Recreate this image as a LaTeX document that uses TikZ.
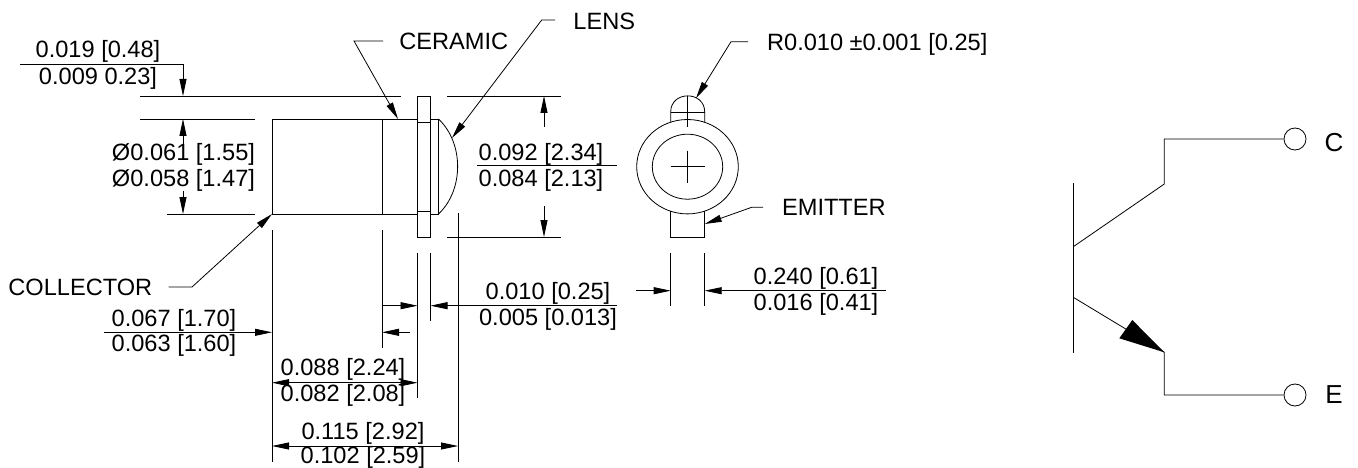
\documentclass[tikz,border=0pt]{standalone}
\usepackage{fontspec}
\setmainfont{Liberation Sans}
\usetikzlibrary{arrows.meta}
\tikzset{
    lbl/.style={inner sep=0pt, text height=17pt, text depth=0pt, font=\fontsize{23.6}{28}\selectfont},
    pinlbl/.style={inner sep=0pt, text height=19pt, text depth=0pt, font=\fontsize{26}{30}\selectfont},
    tipend/.style={-{Triangle[length=17pt,width=7pt]}},
    tipboth/.style={{Triangle[length=17pt,width=7pt]}-{Triangle[length=17pt,width=7pt]}},
    terminal/.style={draw, circle, minimum size=22pt, inner sep=0pt}
}

\begin{document}
\begin{tikzpicture}[x=1pt, y=-1pt, line width=0.8pt]
    \useasboundingbox (0, 0) rectangle (1358, 468);

    % side view
    \draw (272, 119) rectangle (417.5, 214);
    \draw (382, 119) -- (382, 214);
    \draw (417.5, 96) rectangle (430.5, 237);
    \draw (417.5, 122) -- (430.5, 122);
    \draw (417.5, 211) -- (430.5, 211);
    \draw (430.5, 119) -- (438.5, 119) -- (438.5, 214) -- (430.5, 214);
    \draw (438.5, 119) .. controls (464, 143) and (464, 190) .. (438.5, 214);

    % end view
    \coordinate (hub) at (687.5, 166.7);
    \draw (hub) ellipse [x radius=50.8, y radius=47.2];
    \draw (hub) ellipse [x radius=35.2, y radius=32.5];
    \draw (670.7, 166.7) -- (705, 166.7);
    \draw (687.5, 150.7) -- (687.5, 182.7);
    \draw (670.7, 122.5) -- (670.7, 112) .. controls (670.7, 90.5) and (704.7, 90.5) .. (704.7, 112) -- (704.7, 122.5);
    \draw (670.7, 112) -- (704.7, 112);
    \draw (687.5, 96) -- (687.5, 127);
    \draw (670.7, 211) -- (670.7, 237) -- (704.7, 237) -- (704.7, 211);

    % extension lines
    \draw (140, 96) -- (401, 96);
    \draw (140, 119) -- (255, 119);
    \draw (167, 214) -- (255, 214);
    \draw (447, 96) -- (561, 96);
    \draw (447, 237) -- (561, 237);
    \draw (272, 230) -- (272, 462);
    \draw (382, 230) -- (382, 348);
    \draw (417.5, 253) -- (417.5, 398);
    \draw (430.5, 253) -- (430.5, 321);
    \draw (458, 213) -- (458, 462);
    \draw (670.7, 253) -- (670.7, 306);
    \draw (704.7, 253) -- (704.7, 306);

    % callouts
    \node[lbl, anchor=west] (ceramic) at (399, 41) {CERAMIC};
    \node[lbl, anchor=west] (lens) at (573, 21) {LENS};
    \node[lbl, anchor=west] (radius) at (766.7, 41.7) {R0.010 ±0.001 [0.25]};
    \node[lbl, anchor=west] (emitter) at (781.7, 207) {EMITTER};
    \node[lbl, anchor=west] (collector) at (8, 287) {COLLECTOR};
    \coordinate (ceramicbend) at (354, 41);
    \coordinate (ceramictip) at (398, 119);
    \coordinate (lensbend) at (541.7, 20);
    \coordinate (lenstip) at (452, 138);
    \coordinate (radiusbend) at (731, 41.7);
    \coordinate (radiustip) at (696, 98.3);
    \coordinate (emitterbend) at (751.7, 207.3);
    \coordinate (emittertip) at (704.7, 224);
    \coordinate (collectorbend) at (192, 287);
    \coordinate (collectortip) at (272, 214);
    \draw[tipend] (ceramic.west) ++(-16, 0) -- (ceramicbend) -- (ceramictip);
    \draw[tipend] (lens.west) ++(-18, -1) -- (lensbend) -- (lenstip);
    \draw[tipend] (radius.west) ++(-18.7, 0) -- (radiusbend) -- (radiustip);
    \draw[tipend] (emitter.west) ++(-18.7, 0.3) -- (emitterbend) -- (emittertip);
    \draw[tipend] (collector.east) ++(16, 0) -- (collectorbend) -- (collectortip);

    % dimensions, left
    \node[lbl] (topa) at (98, 49) {0.019 [0.48]};
    \node[lbl] (topb) at (98, 76) {0.009 0.23]};
    \draw[tipend] (20, 64.5) -- (183, 64.5) -- (183, 96);
    \node[lbl] (diaa) at (183.5, 152) {Ø0.061 [1.55]};
    \node[lbl] (diab) at (183.5, 178) {Ø0.058 [1.47]};
    \draw[tipend] (183, 144) -- (183, 119);
    \draw[tipend] (183, 191) -- (183, 214);
    \node[lbl] (lefta) at (174, 318) {0.067 [1.70]};
    \node[lbl] (leftb) at (174, 343) {0.063 [1.60]};
    \draw[tipend] (104, 332.3) -- (272, 332.3);

    % dimensions, bottom
    \node[lbl] (flangea) at (343, 367) {0.088 [2.24]};
    \node[lbl] (flangeb) at (343, 393) {0.082 [2.08]};
    \draw[tipboth] (272, 382.7) -- (417.5, 382.7);
    \node[lbl] (overalla) at (363, 431) {0.115 [2.92]};
    \node[lbl] (overallb) at (363, 455) {0.102 [2.59]};
    \draw[tipboth] (272, 446) -- (458, 446);
    \draw[tipend] (383, 305.7) -- (417.5, 305.7);
    \draw[tipend] (410, 332.3) -- (382, 332.3);
    \node[lbl] (gapa) at (548, 291) {0.010 [0.25]};
    \node[lbl] (gapb) at (548, 317) {0.005 [0.013]};
    \draw[tipend] (617, 305.7) -- (430.5, 305.7);

    % dimensions, right
    \node[lbl] (heighta) at (541, 152) {0.092 [2.34]};
    \node[lbl] (heightb) at (541, 178) {0.084 [2.13]};
    \draw (477, 165) -- (617, 165);
    \draw[tipend] (544, 127) -- (544, 96);
    \draw[tipend] (544, 206) -- (544, 237);
    \node[lbl] (pina) at (816, 275.7) {0.240 [0.61]};
    \node[lbl] (pinb) at (816, 301.7) {0.016 [0.41]};
    \draw[tipend] (636, 290.7) -- (670.7, 290.7);
    \draw[tipend] (885.7, 290.7) -- (704.7, 290.7);

    % transistor symbol
    \node[terminal] (cterm) at (1295, 139) {};
    \node[terminal] (eterm) at (1295, 395) {};
    \node[pinlbl] (clabel) at (1334, 141.7) {C};
    \node[pinlbl] (elabel) at (1334, 394) {E};
    \coordinate (basetop) at (1073.3, 183.3);
    \coordinate (basebot) at (1073.3, 352.7);
    \coordinate (cjoin) at (1073.3, 246.7);
    \coordinate (ejoin) at (1073.3, 297.3);
    \coordinate (cknee) at (1164.3, 184);
    \coordinate (eknee) at (1164.3, 352.3);
    \draw (basetop) -- (basebot);
    \draw (cjoin) -- (cknee) |- (cterm.west);
    \draw (ejoin) -- (eknee) |- (eterm.west);
    \fill (eknee) -- (1132.3, 320) -- (1119.3, 338.3) -- cycle;
\end{tikzpicture}
\end{document}
